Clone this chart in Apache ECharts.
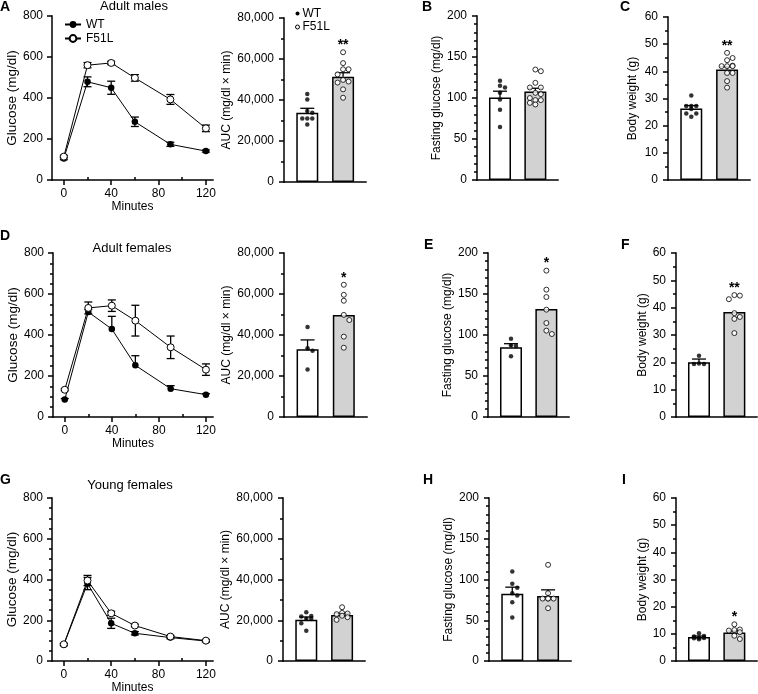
<!DOCTYPE html>
<html><head><meta charset="utf-8">
<script src="https://cdn.jsdelivr.net/npm/echarts@6/dist/echarts.min.js"></script>
<style>html,body{margin:0;padding:0;background:#fff}#c{width:758px;height:694px}</style>
</head><body><div id="c"></div>
<script>
// ===================== DATA =====================
const minutes = [0, 20, 40, 60, 90, 120];
const timeTicks = [0, 40, 80, 120];
const timeMinorTicks = [20, 60, 100];
const groupNames = ['WT', 'F51L'];
const panelTitles = ['Adult males', 'Adult females', 'Young females'];
const panelLetters = ['A', 'B', 'C', 'D', 'E', 'F', 'G', 'H', 'I'];

// glucose tolerance curves (mg/dl), mean and SEM
const glucAdultMalesWT = [105, 479, 450, 284, 174, 141];
const glucAdultMalesWTsem = [6, 24, 32, 23, 10, 5];
const glucAdultMalesF51L = [114, 560, 571, 498, 393, 252];
const glucAdultMalesF51Lsem = [6, 13, 8, 16, 24, 16];
const glucAdultFemalesWT = [85, 512, 429, 252, 138, 109];
const glucAdultFemalesWTsem = [5, 12, 62, 47, 15, 5];
const glucAdultFemalesF51L = [133, 532, 543, 470, 340, 231];
const glucAdultFemalesF51Lsem = [5, 29, 28, 75, 55, 28];
const glucYoungFemalesWT = [80, 380, 185, 136, 115, 98];
const glucYoungFemalesWTsem = [5, 30, 25, 8, 6, 5];
const glucYoungFemalesF51L = [82, 395, 234, 174, 120, 100];
const glucYoungFemalesF51Lsem = [5, 25, 10, 6, 5, 5];

// AUC (mg/dl x min)
const aucAdultMalesWT = [42900, 40300, 34600, 33800, 31000, 31000, 31000, 28100];
const aucAdultMalesF51L = [63300, 58000, 55000, 55000, 52500, 49800, 49000, 48500, 45200, 41100];
const aucAdultMalesMean = [33800, 51400];
const aucAdultMalesSem = [2150, 1900];
const aucAdultMalesSig = ['', '**'];

const aucAdultFemalesWT = [43900, 33500, 32300, 23200];
const aucAdultFemalesF51L = [64500, 59600, 56700, 49800, 47300, 39200, 33800];
const aucAdultFemalesMean = [33000, 49800];
const aucAdultFemalesSem = [4600, 0];
const aucAdultFemalesSig = ['', '*'];

const aucYoungFemalesWT = [23900, 21900, 22100, 20700, 20600, 18500, 14900];
const aucYoungFemalesF51L = [26400, 23600, 23300, 23000, 22200, 21500, 20200];
const aucYoungFemalesMean = [20200, 22600];
const aucYoungFemalesSem = [1400, 800];
const aucYoungFemalesSig = ['', ''];

// Fasting glucose (mg/dl)
const fgAdultMalesWT = [120.9, 114.8, 112.8, 106.3, 98.2, 85.6, 64.5];
const fgAdultMalesF51L = [132.7, 134.7, 118.5, 112.8, 112.8, 104.7, 106.3, 97.4, 97.4, 92.1, 94.1, 100];
const fgAdultMalesMean = [100.6, 107.9];
const fgAdultMalesSem = [7.7, 4];
const fgAdultMalesSig = ['', ''];

const fgAdultFemalesWT = [95.5, 87.5, 86.5, 74];
const fgAdultFemalesF51L = [178.5, 155.3, 146.3, 130.9, 114.6, 105.3, 101.2];
const fgAdultFemalesMean = [85, 131.7];
const fgAdultFemalesSem = [4.4, 0];
const fgAdultFemalesSig = ['', '*'];

const fgYoungFemalesWT = [109.8, 94.7, 90, 83, 80.3, 72.1, 53.3];
const fgYoungFemalesF51L = [118, 83.2, 76.6, 76.6, 76.6, 76.6, 64.8];
const fgYoungFemalesMean = [82.4, 79.9];
const fgYoungFemalesSem = [8.2, 7.4];
const fgYoungFemalesSig = ['', ''];

// Body weight (g)
const bwAdultMalesWT = [31.1, 27.2, 27.2, 27.2, 26.1, 24.5, 24.5, 23.3];
const bwAdultMalesF51L = [46.8, 44.9, 44.1, 42.1, 41.9, 41.9, 41.9, 39.4, 39.4, 36.4, 34.0];
const bwAdultMalesMean = [26.3, 40.7];
const bwAdultMalesSem = [1.1, 1.0];
const bwAdultMalesSig = ['', '**'];

const bwAdultFemalesWT = [22.4, 19.6, 19.4, 19.4];
const bwAdultFemalesF51L = [44.6, 43.1, 44.4, 38.0, 36.6, 35.9, 30.7];
const bwAdultFemalesMean = [20.0, 38.4];
const bwAdultFemalesSem = [1.2, 0];
const bwAdultFemalesSig = ['', '**'];

const bwYoungFemalesWT = [10.2, 9.2, 9.0, 8.6, 8.5, 8.4, 8.0];
const bwYoungFemalesF51L = [13.5, 11.6, 11.4, 11.2, 10.6, 9.3, 8.1];
const bwYoungFemalesMean = [8.8, 10.5];
const bwYoungFemalesSem = [0.4, 0.6];
const bwYoungFemalesSig = ['', '*'];

// ===================== CHART BUILD =====================
const FONT = '"Liberation Sans", Arial, Helvetica, sans-serif';
const grid = [], xAxis = [], yAxis = [], series = [], graphics = [], legend = [];
const BAR_XMIN = -0.65, BAR_XMAX = 1.64;

const axLine = { show: true, onZero: false, lineStyle: { color: '#000', width: 1.5, cap: 'square' } };
const tick = (len) => ({ show: true, inside: false, length: len, lineStyle: { color: '#000', width: 1.5 } });
const lbl = { color: '#000', fontSize: 12, fontFamily: FONT };

function addText(t, x, y, size, bold, align) {
  graphics.push({ type: 'text', x: x, y: y, silent: true, z: 100,
    style: { text: t, fill: '#000', fontSize: size, fontWeight: bold ? 'bold' : 'normal', fontFamily: FONT,
      textAlign: align || 'left', textVerticalAlign: 'middle', align: align || 'left', verticalAlign: 'middle' } });
}

function errRenderer(capHalf, upOnly) {
  return function (params, api) {
    const x = api.value(0), m = api.value(1), s = api.value(2);
    if (!s) return { type: 'group', children: [] };
    const top = api.coord([x, m + s]);
    const bot = api.coord([x, upOnly ? m : m - s]);
    const st = { stroke: '#000', lineWidth: 1.3 };
    const ch = [
      { type: 'line', shape: { x1: top[0], y1: top[1], x2: bot[0], y2: bot[1] }, style: st },
      { type: 'line', shape: { x1: top[0] - capHalf, y1: top[1], x2: top[0] + capHalf, y2: top[1] }, style: st }
    ];
    if (!upOnly) ch.push({ type: 'line', shape: { x1: bot[0] - capHalf, y1: bot[1], x2: bot[0] + capHalf, y2: bot[1] }, style: st });
    return { type: 'group', children: ch };
  };
}

// deterministic beeswarm: place dots (pixel space) so they do not overlap, within the bar width
function swarm(vals, center, pxX, pxY, d, maxOff) {
  const order = vals.map((v, i) => i).sort((a, b) => vals[b] - vals[a]);
  const placed = [], out = [];
  const cands = [0];
  for (let k = 1; k * d <= maxOff + 0.01; k++) cands.push(k * d, -k * d);
  order.forEach(i => {
    const y = vals[i] * pxY;
    let best = 0, bestDist = -1;
    for (const c of cands) {
      let md = Infinity;
      placed.forEach(p => { md = Math.min(md, Math.hypot(c - p[0], y - p[1])); });
      if (md >= d) { best = c; bestDist = Infinity; break; }
      if (md > bestDist) { bestDist = md; best = c; }
    }
    placed.push([best, y]);
    out.push([center + best / pxX, vals[i]]);
  });
  return out;
}

function addLinePanel(p) {
  const gi = grid.length;
  grid.push({ left: p.g[0], top: p.g[1], width: p.g[2], height: p.g[3], containLabel: false, outerBoundsMode: 'none' });
  const xi = xAxis.length;
  xAxis.push({ gridIndex: gi, type: 'value', min: -10, max: 126, axisLine: axLine,
    axisTick: Object.assign(tick(5), { customValues: timeTicks }),
    axisLabel: Object.assign({}, lbl, { margin: 8, customValues: timeTicks }),
    splitLine: { show: false }, name: 'Minutes', nameLocation: 'middle', nameGap: 20,
    nameTextStyle: { color: '#000', fontSize: 12, fontFamily: FONT } });
  xAxis.push({ gridIndex: gi, type: 'value', min: -10, max: 126, axisLine: { show: false },
    axisTick: Object.assign(tick(3), { customValues: timeMinorTicks }),
    axisLabel: { show: false, customValues: timeMinorTicks }, splitLine: { show: false } });
  const yi = yAxis.length;
  yAxis.push({ gridIndex: gi, type: 'value', min: 0, max: 800, interval: 200, axisLine: axLine, axisTick: tick(5),
    minorTick: { show: p.yMinor, splitNumber: 4, length: 3, lineStyle: { color: '#000', width: 1.5 } },
    axisLabel: Object.assign({}, lbl, { margin: 9 }), splitLine: { show: false }, minorSplitLine: { show: false },
    name: 'Glucose (mg/dl)', nameLocation: 'middle', nameGap: 29,
    nameTextStyle: { color: '#000', fontSize: 13.5, fontFamily: FONT } });
  const common = { xAxisIndex: xi, yAxisIndex: yi, silent: true, animation: false };
  series.push(Object.assign({ type: 'custom', renderItem: errRenderer(4, !!p.wtUpOnly), z: 2,
    data: minutes.map((m, i) => [m, p.wt[i], p.wtSem[i]]) }, common));
  series.push(Object.assign({ type: 'custom', renderItem: errRenderer(4, false), z: 2,
    data: minutes.map((m, i) => [m, p.f[i], p.fSem[i]]) }, common));
  series.push(Object.assign({ type: 'line', name: 'WT', z: 3, data: minutes.map((m, i) => [m, p.wt[i]]),
    symbol: 'circle', symbolSize: 6.5, itemStyle: { color: '#000' }, lineStyle: { color: '#000', width: 1 } }, common));
  series.push(Object.assign({ type: 'line', name: 'F51L', z: 4, data: minutes.map((m, i) => [m, p.f[i]]),
    symbol: 'circle', symbolSize: 7, itemStyle: { color: '#fff', borderColor: '#000', borderWidth: 1 },
    lineStyle: { color: '#000', width: 1 } }, common));
  addText(p.title, p.tx, p.ty, 13, false, 'center');
  addText(p.letter, p.lx, p.ly, 14, true, 'left');
}

function addBarPanel(p) {
  const gi = grid.length;
  grid.push({ left: p.g[0], top: p.g[1], width: p.g[2], height: p.g[3], containLabel: false, outerBoundsMode: 'none' });
  const xi = xAxis.length;
  xAxis.push({ gridIndex: gi, type: 'value', min: BAR_XMIN, max: BAR_XMAX, axisLine: axLine,
    axisTick: { show: false }, axisLabel: { show: false }, splitLine: { show: false } });
  const yi = yAxis.length;
  yAxis.push({ gridIndex: gi, type: 'value', min: 0, max: p.yMax, interval: p.yInt, axisLine: axLine, axisTick: tick(5),
    minorTick: { show: true, splitNumber: p.minor, length: 3, lineStyle: { color: '#000', width: 1.5 } },
    axisLabel: Object.assign({}, lbl, { margin: 10, formatter: p.fmt }), splitLine: { show: false }, minorSplitLine: { show: false },
    name: p.name, nameLocation: 'middle', nameGap: p.gap,
    nameTextStyle: { color: '#000', fontSize: 12, fontFamily: FONT } });
  const common = { xAxisIndex: xi, yAxisIndex: yi, silent: true, animation: false };
  series.push(Object.assign({ type: 'bar', barWidth: 22, z: 2,
    itemStyle: { borderColor: '#000', borderWidth: 1.5 },
    data: [{ value: [0, p.mean[0]], itemStyle: { color: '#fff' } }, { value: [1, p.mean[1]], itemStyle: { color: '#d2d2d2' } }] }, common));
  series.push(Object.assign({ type: 'custom', renderItem: errRenderer(7, true), z: 3,
    data: [[0, p.mean[0], p.sem[0]], [1, p.mean[1], p.sem[1]]] }, common));
  const pxX = p.g[2] / (BAR_XMAX - BAR_XMIN), pxY = p.g[3] / p.yMax;
  series.push(Object.assign({ type: 'scatter', z: 4, symbol: 'circle', symbolSize: 4.5,
    itemStyle: { color: '#000' }, data: swarm(p.wt, 0, pxX, pxY, 5, 9) }, common));
  series.push(Object.assign({ type: 'scatter', z: 5, symbol: 'circle', symbolSize: 5,
    itemStyle: { color: '#fff', borderColor: '#000', borderWidth: 1 }, data: swarm(p.f, 1, pxX, pxY, 5.5, 9) }, common));
  const tops = [Math.max.apply(null, p.wt), Math.max.apply(null, p.f)];
  const sigData = [];
  p.sig.forEach((s, i) => { if (s) sigData.push([i, tops[i], s]); });
  if (sigData.length) {
    series.push(Object.assign({ type: 'custom', z: 6, data: sigData.map(d => [d[0], d[1]]),
      renderItem: function (params, api) {
        const c = api.coord([api.value(0), api.value(1)]);
        const s = sigData[params.dataIndex][2];
        return { type: 'text', x: c[0], y: c[1] - 7,
          style: { text: s, fill: '#000', fontSize: 14, fontWeight: 'bold', fontFamily: FONT,
            textAlign: 'center', textVerticalAlign: 'middle', align: 'center', verticalAlign: 'middle' } };
      } }, common));
  }
  if (p.letter) addText(p.letter, p.lx, p.ly, 14, true, 'left');
}

const fmtAUC = v => v === 0 ? '0' : v.toLocaleString('en-US');

// ---- row 1 ----
addLinePanel({ g: [52, 16, 161, 164], wt: glucAdultMalesWT, wtSem: glucAdultMalesWTsem, f: glucAdultMalesF51L, fSem: glucAdultMalesF51Lsem,
  yMinor: false, title: panelTitles[0], tx: 134, ty: 6, letter: panelLetters[0], lx: 0, ly: 7 });
addBarPanel({ g: [284, 18, 82, 164], yMax: 80000, yInt: 20000, minor: 2, fmt: fmtAUC, name: 'AUC (mg/dl × min)', gap: 51,
  wt: aucAdultMalesWT, f: aucAdultMalesF51L, mean: aucAdultMalesMean, sem: aucAdultMalesSem, sig: aucAdultMalesSig });
addBarPanel({ g: [477, 16, 81, 164], yMax: 200, yInt: 50, minor: 5, name: 'Fasting glucose (mg/dl)', gap: 29,
  wt: fgAdultMalesWT, f: fgAdultMalesF51L, mean: fgAdultMalesMean, sem: fgAdultMalesSem, sig: fgAdultMalesSig,
  letter: panelLetters[1], lx: 422, ly: 7 });
addBarPanel({ g: [668, 17, 82, 163], yMax: 60, yInt: 10, minor: 2, name: 'Body weight (g)', gap: 29,
  wt: bwAdultMalesWT, f: bwAdultMalesF51L, mean: bwAdultMalesMean, sem: bwAdultMalesSem, sig: bwAdultMalesSig,
  letter: panelLetters[2], lx: 620, ly: 7 });

// ---- row 2 ----
addLinePanel({ g: [53, 253, 160, 164], wt: glucAdultFemalesWT, wtSem: glucAdultFemalesWTsem, f: glucAdultFemalesF51L, fSem: glucAdultFemalesF51Lsem,
  wtUpOnly: true, yMinor: true, title: panelTitles[1], tx: 132, ty: 248, letter: panelLetters[3], lx: 0, ly: 236 });
addBarPanel({ g: [284, 253, 83, 164], yMax: 80000, yInt: 20000, minor: 2, fmt: fmtAUC, name: 'AUC (mg/dl × min)', gap: 51,
  wt: aucAdultFemalesWT, f: aucAdultFemalesF51L, mean: aucAdultFemalesMean, sem: aucAdultFemalesSem, sig: aucAdultFemalesSig });
addBarPanel({ g: [488, 253, 81, 164], yMax: 200, yInt: 50, minor: 5, name: 'Fasting glucose (mg/dl)', gap: 29,
  wt: fgAdultFemalesWT, f: fgAdultFemalesF51L, mean: fgAdultFemalesMean, sem: fgAdultFemalesSem, sig: fgAdultFemalesSig,
  letter: panelLetters[4], lx: 424, ly: 245 });
addBarPanel({ g: [676, 253, 81, 164], yMax: 60, yInt: 10, minor: 2, name: 'Body weight (g)', gap: 27,
  wt: bwAdultFemalesWT, f: bwAdultFemalesF51L, mean: bwAdultFemalesMean, sem: bwAdultFemalesSem, sig: bwAdultFemalesSig,
  letter: panelLetters[5], lx: 621, ly: 245 });

// ---- row 3 ----
addLinePanel({ g: [52, 498, 161, 163], wt: glucYoungFemalesWT, wtSem: glucYoungFemalesWTsem, f: glucYoungFemalesF51L, fSem: glucYoungFemalesF51Lsem,
  yMinor: true, title: panelTitles[2], tx: 130, ty: 485, letter: panelLetters[6], lx: 0, ly: 480 });
addBarPanel({ g: [283, 498, 82, 163], yMax: 80000, yInt: 20000, minor: 2, fmt: fmtAUC, name: 'AUC (mg/dl × min)', gap: 51,
  wt: aucYoungFemalesWT, f: aucYoungFemalesF51L, mean: aucYoungFemalesMean, sem: aucYoungFemalesSem, sig: aucYoungFemalesSig });
addBarPanel({ g: [489, 498, 82, 163], yMax: 200, yInt: 50, minor: 5, name: 'Fasting glucose (mg/dl)', gap: 30,
  wt: fgYoungFemalesWT, f: fgYoungFemalesF51L, mean: fgYoungFemalesMean, sem: fgYoungFemalesSem, sig: fgYoungFemalesSig,
  letter: panelLetters[7], lx: 423, ly: 480 });
addBarPanel({ g: [676, 498, 81, 163], yMax: 60, yInt: 10, minor: 2, name: 'Body weight (g)', gap: 26,
  wt: bwYoungFemalesWT, f: bwYoungFemalesF51L, mean: bwYoungFemalesMean, sem: bwYoungFemalesSem, sig: bwYoungFemalesSig,
  letter: panelLetters[8], lx: 622, ly: 480 });

// ---- legends ----
legend.push({ selectedMode: false, orient: 'vertical', left: 64, top: 18, itemWidth: 16, itemHeight: 8.5, itemGap: 1, padding: 0,
  textStyle: { color: '#000', fontSize: 12, fontFamily: FONT, lineHeight: 13 },
  data: groupNames.map(n => ({ name: n })) });
legend.push({ selectedMode: false, orient: 'vertical', left: 295, top: 7, itemWidth: 4, itemHeight: 4, itemGap: 0.5, padding: 0,
  textStyle: { color: '#000', fontSize: 12, fontFamily: FONT, lineHeight: 13, padding: [0, 0, 0, -2] },
  data: [{ name: groupNames[0], icon: 'circle', itemStyle: { color: '#000', borderWidth: 0 } },
         { name: groupNames[1], icon: 'circle', itemStyle: { color: '#fff', borderColor: '#000', borderWidth: 1 } }] });

const chart = echarts.init(document.getElementById('c'), null, { renderer: 'canvas' });
chart.setOption({
  animation: false, backgroundColor: '#fff',
  textStyle: { fontFamily: FONT },
  grid: grid, xAxis: xAxis, yAxis: yAxis, series: series, legend: legend,
  graphic: { elements: graphics }
});
</script>
</body></html>
